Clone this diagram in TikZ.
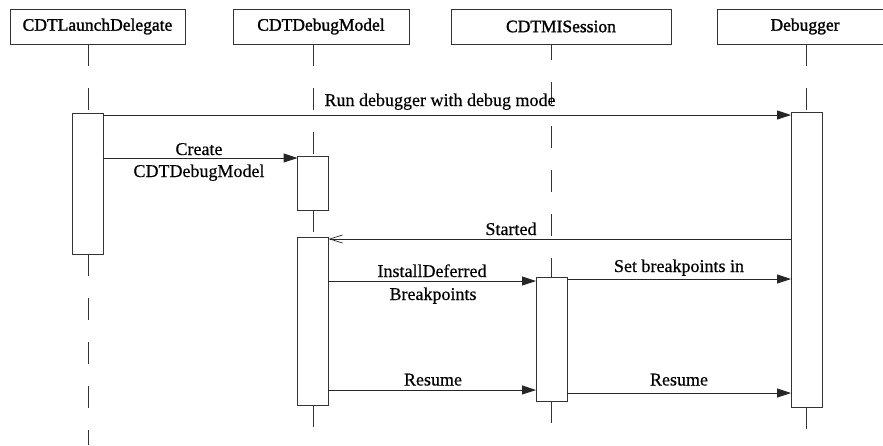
\documentclass[tikz,border=0pt]{standalone}
\usepackage{fontspec}
\setmainfont{Liberation Serif}[FakeBold=0.35]
\newfontfamily\headfont{Liberation Serif}[FakeBold=1.4]
\usetikzlibrary{arrows.meta}

\tikzset{
  ink/.style={draw=black!80, line width=0.9pt},
  header/.style={ink, fill=white, minimum height=35pt, inner sep=0pt,
    font=\headfont\fontsize{17.5}{21}\selectfont},
  actbox/.style={ink, fill=white, minimum width=30pt, inner sep=0pt},
  life/.style={draw=black!80, line width=0.9pt, dash pattern=on 22pt off 22pt},
  call/.style={draw=black!85, line width=0.9pt, -{Triangle[length=14pt,width=9pt]}},
  reply/.style={draw=black!85, line width=0.9pt, -{Straight Barb[length=13pt,width=8pt,line width=0.7pt]}},
  msg/.style={anchor=base, inner sep=0pt, font=\fontsize{18}{21}\selectfont}
}

\begin{document}
\begin{tikzpicture}[x=1pt, y=-1pt]
\useasboundingbox (0,0) rectangle (883,445);

% participants
\node[header, minimum width=175pt] (h1) at (97.5,26.5) {CDTLaunchDelegate};
\node[header, minimum width=176pt] (h2) at (321,26.5) {CDTDebugModel};
\node[header, minimum width=220pt] (h3) at (561,26.5) {CDTMISession};
\node[header, minimum width=176pt] (h4) at (805,26.5) {Debugger};

% activation bars (placed first as coordinates for the lifelines)
\coordinate (bot) at (0,445);
\path
  node[actbox, minimum height=140pt] (a1) at (88,184) {}
  node[actbox, minimum height=53pt]  (a2) at (313,183.5) {}
  node[actbox, minimum height=167pt] (a3) at (313,321.5) {}
  node[actbox, minimum height=123pt] (a4) at (551.5,339.5) {}
  node[actbox, minimum height=294pt] (a5) at (806.5,260) {};

% lifelines
\draw[life] (a1 |- h1.south) -- (a1.north);
\draw[life] (a1.south) -- (a1 |- bot);
\draw[life] (a2 |- h2.south) -- (a2.north);
\draw[life] (a2.south) -- (a3.north);
\draw[life] (a3.south) -- (a3 |- bot);
\draw[life, dash phase=6pt] (a4 |- h3.south) -- (a4.north);
\draw[life] (a4.south) -- (a4 |- bot);
\draw[life] (a5 |- h4.south) -- (a5.north);
\draw[life] (a5.south) -- (a5 |- bot);

% redraw the bars above the lifelines
\foreach \b in {a1,a2,a3,a4,a5}
  \path[ink, fill=white] (\b.north west) rectangle (\b.south east);

% message levels
\coordinate (y1) at (0,115);
\coordinate (y2) at (0,158);
\coordinate (y3) at (0,239);
\coordinate (y4) at (0,281);
\coordinate (y5) at (0,279);
\coordinate (y6) at (0,390);
\coordinate (y7) at (0,393);

% messages
\draw[call]  (a1.east |- y1) -- (a5.west |- y1);
\draw[call]  (a1.east |- y2) -- (a2.west |- y2);
\draw[reply] (a5.west |- y3) -- (a3.east |- y3);
\draw[call]  (a3.east |- y4) -- (a4.west |- y4);
\draw[call]  (a4.east |- y5) -- (a5.west |- y5);
\draw[call]  (a3.east |- y6) -- (a4.west |- y6);
\draw[call]  (a4.east |- y7) -- (a5.west |- y7);

% message labels
\node[msg] (t1)  at (440,106)   {Run debugger with debug mode};
\node[msg] (t2a) at (199,155)   {Create};
\node[msg] (t2b) at (199,177)   {CDTDebugModel};
\node[msg] (t3)  at (511,235)   {Started};
\node[msg] (t4a) at (432,277)   {InstallDeferred};
\node[msg] (t4b) at (433,300)   {Breakpoints};
\node[msg] (t5)  at (679,272)   {Set breakpoints in};
\node[msg] (t6)  at (433,385.5) {Resume};
\node[msg] (t7)  at (679,385.5) {Resume};
\end{tikzpicture}
\end{document}
